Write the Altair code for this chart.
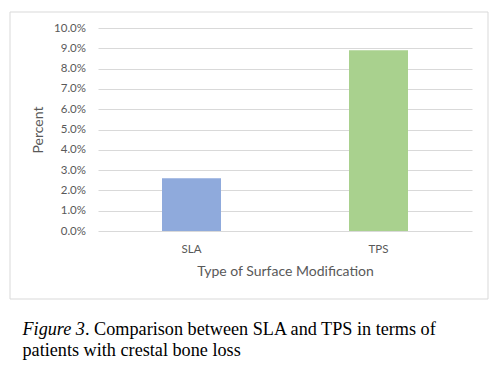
import altair as alt
import pandas as pd

categories = ["SLA", "TPS"]
percent = [0.026, 0.089]
colors = ["#8FAADC", "#A9D18E"]
y_ticks = [i / 100 for i in range(0, 11)]

caption_italic = "Figure 3"
caption_line1 = ". Comparison between SLA and TPS in terms of"
caption_line2 = "patients with crestal bone loss"

df = pd.DataFrame({"cat": categories, "val": percent})

FONT = "Lato"
GREY = "#595959"

bars = alt.Chart(df).mark_bar(width={"band": 59 / 187}).encode(
    x=alt.X(
        "cat:N",
        sort=categories,
        scale=alt.Scale(paddingInner=0, paddingOuter=0),
        axis=alt.Axis(
            title="Type of Surface Modification",
            labelAngle=0,
            domain=False,
            ticks=False,
            tickSize=0,
            labelPadding=18,
            labelBaseline="middle",
            labelFont=FONT,
            labelFontSize=11.5,
            labelColor=GREY,
            titleFont=FONT,
            titleFontSize=14,
            titleFontWeight="normal",
            titleColor=GREY,
            titleY=40,
            titleBaseline="middle",
        ),
    ),
    y=alt.Y(
        "val:Q",
        scale=alt.Scale(domain=[0, 0.1], nice=False),
        axis=alt.Axis(
            title="Percent",
            format=".1%",
            values=y_ticks,
            domain=False,
            ticks=False,
            tickSize=0,
            labelPadding=12.5,
            labelFont=FONT,
            labelFontSize=11.5,
            labelColor=GREY,
            grid=True,
            gridColor="#D9D9D9",
            gridWidth=1,
            titleFont=FONT,
            titleFontSize=14,
            titleFontWeight="normal",
            titleColor=GREY,
            titleX=-60,
            titleY=101.5,
            titleAngle=-90,
            titleAlign="center",
            titleBaseline="middle",
        ),
    ),
    color=alt.Color("cat:N", scale=alt.Scale(domain=categories, range=colors), legend=None),
)

one = pd.DataFrame({"k": [0]})

border = alt.Chart(one).mark_rect(filled=False, stroke="#D9D9D9", strokeWidth=1).encode(
    x=alt.value(-88),
    x2=alt.value(390),
    y=alt.value(-16),
    y2=alt.value(271),
)

cap_it = alt.Chart(one).mark_text(
    font="Liberation Serif", fontSize=18.2, fontStyle="italic", align="left",
    baseline="alphabetic", color="black",
).encode(x=alt.value(-75.5), y=alt.value(307), text=alt.value(caption_italic))

cap_1 = alt.Chart(one).mark_text(
    font="Liberation Serif", fontSize=18.2, align="left",
    baseline="alphabetic", color="black",
).encode(x=alt.value(-13), y=alt.value(307), text=alt.value(caption_line1))

cap_2 = alt.Chart(one).mark_text(
    font="Liberation Serif", fontSize=18.2, align="left",
    baseline="alphabetic", color="black",
).encode(x=alt.value(-75.5), y=alt.value(327.5), text=alt.value(caption_line2))

chart = alt.layer(border, bars, cap_it, cap_1, cap_2).properties(
    width=374,
    height=203,
    autosize=alt.AutoSizeParams(type="none"),
    padding={"left": 90, "top": 20, "right": 19, "bottom": 131},
    background="white",
).configure_view(stroke=None)

chart.save("out.html", embed_options={"renderer": "svg", "actions": False})
